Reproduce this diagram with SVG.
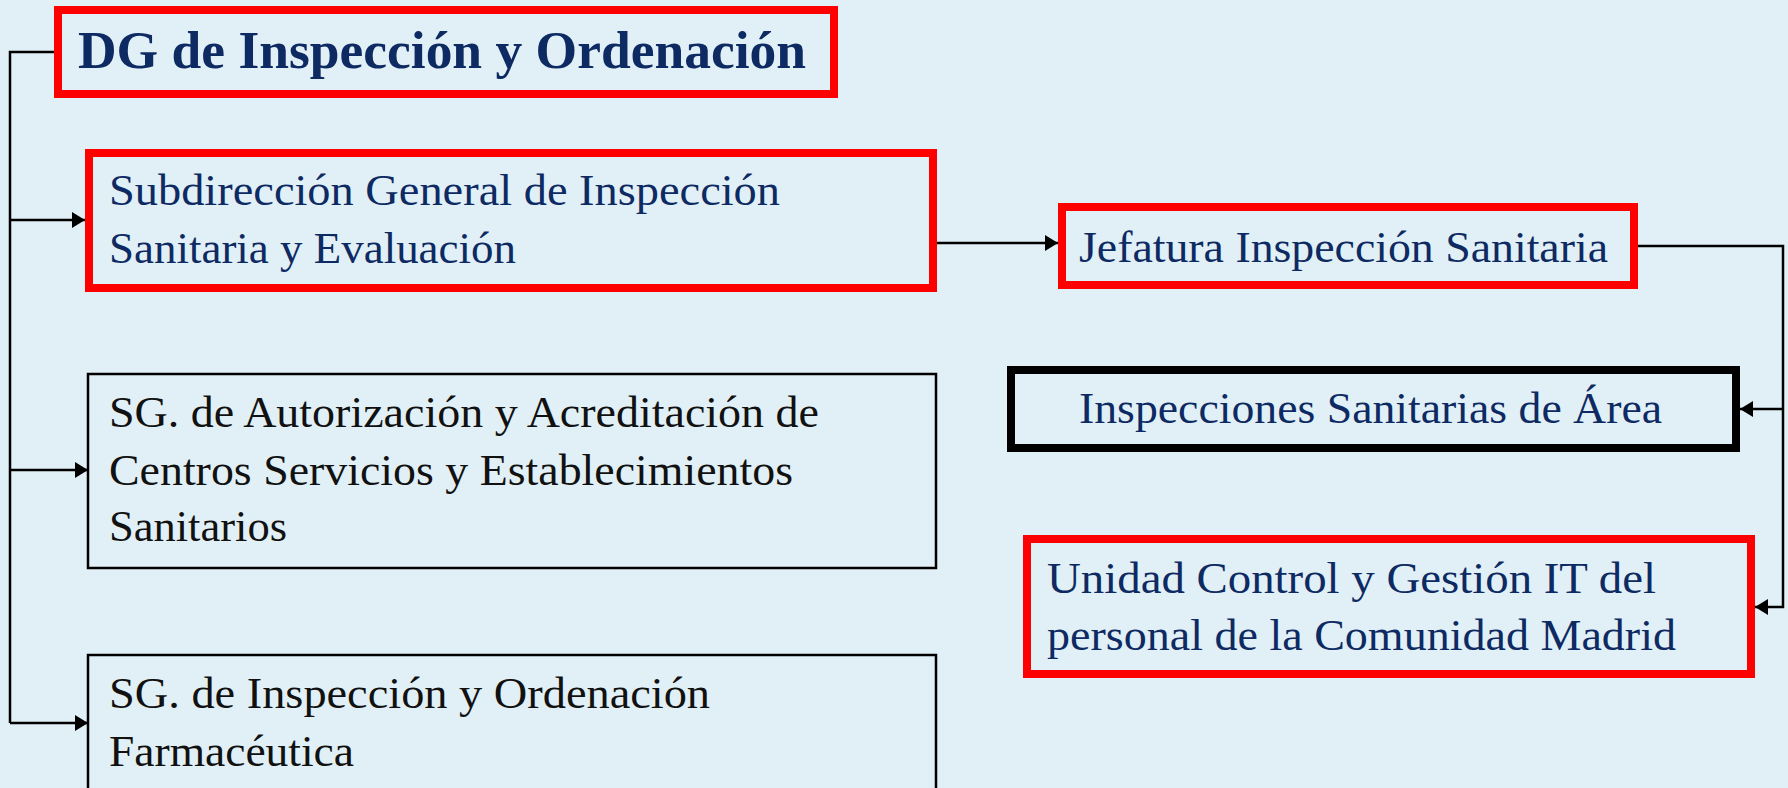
<svg xmlns="http://www.w3.org/2000/svg" width="1788" height="788" viewBox="0 0 1788 788">
<defs>
<style>
.bg{fill:#E1F0F6}
.red{fill:none;stroke:#FF0000;stroke-width:8}
.blk{fill:none;stroke:#000;stroke-width:8}
.thin{fill:none;stroke:#000;stroke-width:2.5}
.t{font-family:"Liberation Serif","Times New Roman",serif;font-size:44px;fill:#0E2A63}
.tb{font-family:"Liberation Serif","Times New Roman",serif;font-size:52px;font-weight:bold;fill:#0E2A63}
.tk{font-family:"Liberation Serif","Times New Roman",serif;font-size:44px;fill:#111}
.c{fill:none;stroke:#000;stroke-width:2.5}
</style>
<marker id="ah" markerUnits="userSpaceOnUse" markerWidth="14" markerHeight="16" refX="13" refY="8" orient="auto">
<path d="M0,0 L13,8 L0,16 Z" fill="#000"/>
</marker>
</defs>
<rect class="bg" x="0" y="0" width="1788" height="788"/>
<g id="connectors">
<path class="c" d="M54,52 H10 V723"/>
<path class="c" d="M10,220 H85" marker-end="url(#ah)"/>
<path class="c" d="M10,470 H88" marker-end="url(#ah)"/>
<path class="c" d="M10,723 H88" marker-end="url(#ah)"/>
<path class="c" d="M937,243 H1058" marker-end="url(#ah)"/>
<path class="c" d="M1638,246 H1783 V607 H1755" marker-end="url(#ah)"/>
<path class="c" d="M1783,409 H1740" marker-end="url(#ah)"/>
</g>
<g id="dg">
<rect class="red" x="58" y="10" width="776" height="84"/>
<text class="tb" x="78" y="68" textLength="728" lengthAdjust="spacingAndGlyphs">DG de Inspección y Ordenación</text>
</g>
<g id="subdireccion">
<rect class="red" x="89" y="153" width="844" height="135"/>
<text class="t" x="109" y="205" textLength="671" lengthAdjust="spacingAndGlyphs">Subdirección General de Inspección</text>
<text class="t" x="109" y="263" textLength="407" lengthAdjust="spacingAndGlyphs">Sanitaria y Evaluación</text>
</g>
<g id="jefatura">
<rect class="red" x="1062" y="207" width="572" height="78"/>
<text class="t" x="1079" y="262" textLength="529" lengthAdjust="spacingAndGlyphs">Jefatura Inspección Sanitaria</text>
</g>
<g id="inspecciones">
<rect class="blk" x="1011" y="370" width="725" height="78"/>
<text class="t" x="1079" y="423" textLength="583" lengthAdjust="spacingAndGlyphs">Inspecciones Sanitarias de Área</text>
</g>
<g id="unidad">
<rect class="red" x="1027" y="539" width="724" height="135"/>
<text class="t" x="1047" y="593" textLength="609" lengthAdjust="spacingAndGlyphs">Unidad Control y Gestión IT del</text>
<text class="t" x="1047" y="650" textLength="629" lengthAdjust="spacingAndGlyphs">personal de la Comunidad Madrid</text>
</g>
<g id="sg-autorizacion">
<rect class="thin" x="88" y="374" width="848" height="194"/>
<text class="tk" x="109" y="427" textLength="710" lengthAdjust="spacingAndGlyphs">SG. de Autorización y Acreditación de</text>
<text class="tk" x="109" y="485" textLength="684" lengthAdjust="spacingAndGlyphs">Centros Servicios y Establecimientos</text>
<text class="tk" x="109" y="541" textLength="178" lengthAdjust="spacingAndGlyphs">Sanitarios</text>
</g>
<g id="sg-farmaceutica">
<rect class="thin" x="88" y="655" width="848" height="150"/>
<text class="tk" x="109" y="708" textLength="601" lengthAdjust="spacingAndGlyphs">SG. de Inspección y Ordenación</text>
<text class="tk" x="109" y="766" textLength="245" lengthAdjust="spacingAndGlyphs">Farmacéutica</text>
</g>
</svg>
